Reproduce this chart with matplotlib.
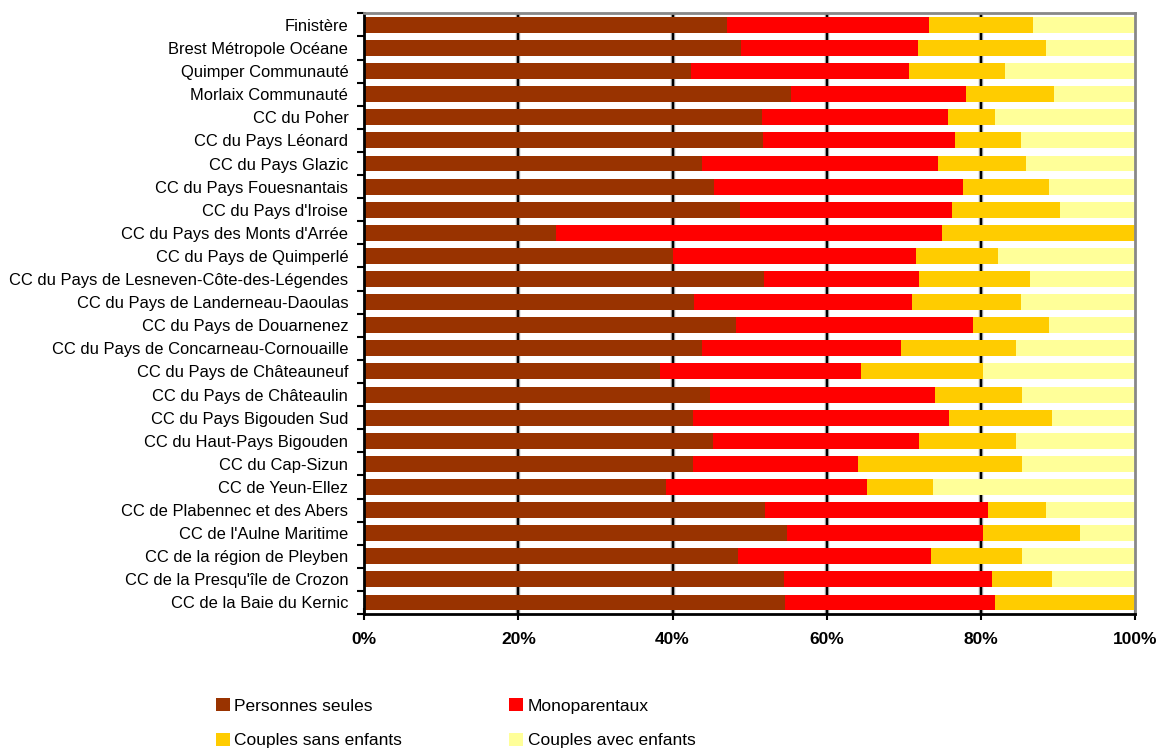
import matplotlib.pyplot as plt
import numpy as np

plt.rcParams['font.family'] = ['Liberation Sans', 'DejaVu Sans']

# territoires, du haut vers le bas
territoires = [
    "Finistère", "Brest Métropole Océane", "Quimper Communauté", "Morlaix Communauté",
    "CC du Poher", "CC du Pays Léonard", "CC du Pays Glazic", "CC du Pays Fouesnantais",
    "CC du Pays d'Iroise", "CC du Pays des Monts d'Arrée", "CC du Pays de Quimperlé",
    "CC du Pays de Lesneven-Côte-des-Légendes", "CC du Pays de Landerneau-Daoulas",
    "CC du Pays de Douarnenez", "CC du Pays de Concarneau-Cornouaille",
    "CC du Pays de Châteauneuf", "CC du Pays de Châteaulin", "CC du Pays Bigouden Sud",
    "CC du Haut-Pays Bigouden", "CC du Cap-Sizun", "CC de Yeun-Ellez",
    "CC de Plabennec et des Abers", "CC de l'Aulne Maritime", "CC de la région de Pleyben",
    "CC de la Presqu'île de Crozon", "CC de la Baie du Kernic",
]

# parts en %
personnes_seules = [47.1, 48.9, 42.4, 55.4, 51.6, 51.8, 43.8, 45.4, 48.7, 24.9, 40.1, 51.9, 42.8,
                    48.3, 43.8, 38.4, 44.9, 42.7, 45.2, 42.7, 39.1, 52.0, 54.9, 48.5, 54.4, 54.6]
monoparentaux = [26.2, 23.0, 28.3, 22.7, 24.2, 24.8, 30.6, 32.3, 27.6, 50.1, 31.5, 20.1, 28.3,
                 30.7, 25.9, 26.0, 29.2, 33.2, 26.8, 21.4, 26.1, 28.9, 25.4, 25.1, 27.1, 27.2]
couples_sans = [13.5, 16.5, 12.5, 11.4, 6.1, 8.6, 11.5, 11.2, 14.0, 25.0, 10.6, 14.4, 14.1,
                9.8, 14.9, 15.9, 11.3, 13.4, 12.6, 21.3, 8.6, 7.5, 12.6, 11.7, 7.8, 18.2]
couples_avec = [13.2, 11.6, 16.8, 10.5, 18.1, 14.8, 14.1, 11.1, 9.7, 0.0, 17.8, 13.6, 14.8,
                11.2, 15.4, 19.7, 14.6, 10.7, 15.4, 14.6, 26.2, 11.6, 7.1, 14.7, 10.7, 0.0]

series = [
    ("Personnes seules", personnes_seules, "#993300"),
    ("Monoparentaux", monoparentaux, "#FF0000"),
    ("Couples sans enfants", couples_sans, "#FFCC00"),
    ("Couples avec enfants", couples_avec, "#FFFF99"),
]

fig = plt.figure(figsize=(11.6, 7.49), dpi=100)
ax = fig.add_axes([0.314, 0.1802, 0.6644, 0.802])

y = np.arange(len(territoires))
left = np.zeros(len(territoires))
handles = {}
for name, vals, col in series:
    vals = np.array(vals)
    b = ax.barh(y, vals, left=left, height=0.69, color=col, zorder=2, label=name)
    handles[name] = b
    left += vals

ax.set_xlim(0, 100)
ax.set_ylim(len(territoires) - 0.5, -0.5)

# grille verticale noire
for gx in [20, 40, 60, 80]:
    ax.axvline(gx, color="#AAAAAA", lw=3.2, zorder=0)
    ax.axvline(gx, color="black", lw=1.6, zorder=1)

ax.set_xticks([0, 20, 40, 60, 80, 100])
ax.set_xticklabels(["0%", "20%", "40%", "60%", "80%", "100%"], fontweight="bold", fontsize=12.5)
ax.tick_params(axis="x", direction="inout", length=8, width=1.5, pad=9)

ax.set_yticks(y)
ax.set_yticklabels(territoires, fontsize=11.9)
ax.set_yticks(np.arange(len(territoires) + 1) - 0.5, minor=True)
ax.tick_params(axis="y", which="major", length=0, pad=11.5)
ax.tick_params(axis="y", which="minor", direction="out", length=5, width=1.5)

for s in ["left", "bottom"]:
    ax.spines[s].set_linewidth(2)
    ax.spines[s].set_color("black")
for s in ["top", "right"]:
    ax.spines[s].set_linewidth(2)
    ax.spines[s].set_color("#888888")

order = ["Personnes seules", "Couples sans enfants", "Monoparentaux", "Couples avec enfants"]
fig.legend([handles[k] for k in order], order, ncol=2, loc="lower left",
           bbox_to_anchor=(0.177, -0.013), frameon=False, fontsize=12.5, borderpad=0.1,
           handlelength=0.8, handleheight=0.8, handletextpad=0.25,
           columnspacing=6.2, labelspacing=1.1)

plt.savefig("out.png", dpi=100)
